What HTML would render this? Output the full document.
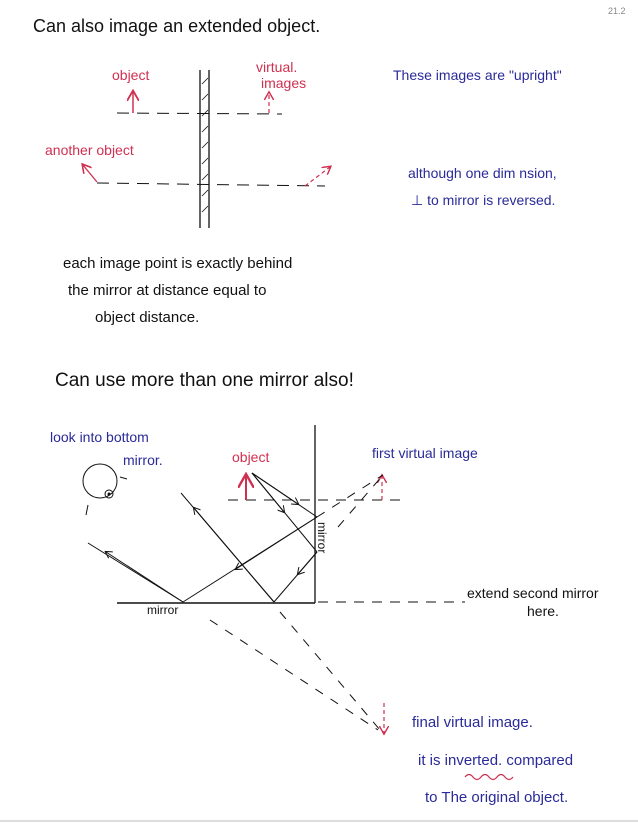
<!DOCTYPE html>
<html><head><meta charset="utf-8"><style>
html,body{margin:0;padding:0;background:#fff;}
svg{display:block;}
text{font-family:"Liberation Sans",sans-serif;}
.k{fill:#111;} .b{fill:#2a2a9a;} .r{fill:#d03050;}
</style></head><body>
<svg width="638" height="824" viewBox="0 0 638 824" xmlns="http://www.w3.org/2000/svg">
<defs>
<marker id="ah" markerWidth="8" markerHeight="8" refX="6" refY="4" orient="auto"><path d="M0,0 L7,4 L0,8" fill="none" stroke="#111" stroke-width="1"/></marker>
<marker id="ahr" markerWidth="8" markerHeight="8" refX="6" refY="4" orient="auto"><path d="M0,0 L7,4 L0,8" fill="none" stroke="#d03050" stroke-width="1.2"/></marker>
</defs>
<!-- top section -->
<text x="33" y="32" font-size="18" class="k">Can also image an extended object.</text>
<text x="608" y="14" font-size="9" fill="#888">21.2</text>
<line x1="200" y1="70" x2="200" y2="228" stroke="#111" stroke-width="1.3"/>
<line x1="209" y1="70" x2="209" y2="228" stroke="#111" stroke-width="1.3"/>
<g stroke="#111" stroke-width="0.8">
<line x1="202" y1="84" x2="208" y2="78"/><line x1="202" y1="100" x2="208" y2="94"/><line x1="202" y1="116" x2="208" y2="110"/><line x1="202" y1="132" x2="208" y2="126"/><line x1="202" y1="148" x2="208" y2="142"/><line x1="202" y1="164" x2="208" y2="158"/><line x1="202" y1="180" x2="208" y2="174"/><line x1="202" y1="196" x2="208" y2="190"/><line x1="202" y1="212" x2="208" y2="206"/>
</g>
<line x1="117" y1="113" x2="282" y2="114" stroke="#111" stroke-dasharray="12,8"/>
<line x1="97" y1="183" x2="325" y2="186" stroke="#111" stroke-dasharray="12,8"/>
<line x1="133" y1="113" x2="133" y2="92" stroke="#d03050" stroke-width="1.5" marker-end="url(#ahr)"/>
<line x1="269" y1="113" x2="269" y2="93" stroke="#d03050" stroke-width="1.2" stroke-dasharray="4,3" marker-end="url(#ahr)"/>
<line x1="97" y1="182" x2="83" y2="165" stroke="#d03050" stroke-width="1.3" marker-end="url(#ahr)"/>
<line x1="305" y1="186" x2="330" y2="167" stroke="#d03050" stroke-width="1.2" stroke-dasharray="4,3" marker-end="url(#ahr)"/>
<text x="112" y="80" font-size="14" class="r">object</text>
<text x="256" y="72" font-size="14" class="r">virtual.</text>
<text x="261" y="88" font-size="14" class="r">images</text>
<text x="45" y="155" font-size="14" class="r">another object</text>
<text x="393" y="80" font-size="14" class="b">These images are "upright"</text>
<text x="408" y="178" font-size="14" class="b">although one dim nsion,</text>
<text x="411" y="205" font-size="14" class="b">⊥ to mirror is reversed.</text>
<text x="63" y="268" font-size="15" class="k">each image point is exactly behind</text>
<text x="68" y="295" font-size="15" class="k">the mirror at distance equal to</text>
<text x="95" y="322" font-size="15" class="k">object distance.</text>
<text x="55" y="386" font-size="19" class="k">Can use more than one mirror also!</text>
<!-- bottom section -->
<text x="50" y="442" font-size="14" class="b">look into bottom</text>
<text x="123" y="465" font-size="14" class="b">mirror.</text>
<line x1="315" y1="425" x2="315" y2="603" stroke="#111" stroke-width="1.3"/>
<line x1="117" y1="603" x2="315" y2="603" stroke="#111" stroke-width="1.5"/>
<line x1="318" y1="602" x2="465" y2="602" stroke="#111" stroke-dasharray="10,8"/>
<line x1="228" y1="500" x2="408" y2="500" stroke="#111" stroke-dasharray="10,8"/>
<text x="147" y="614" font-size="12" class="k">mirror</text>
<text x="0" y="0" font-size="12" class="k" transform="translate(318,522) rotate(90)">mirror</text>
<text x="467" y="598" font-size="14" class="k">extend second mirror</text>
<text x="527" y="616" font-size="14" class="k">here.</text>
<line x1="246" y1="500" x2="246" y2="476" stroke="#d03050" stroke-width="2" marker-end="url(#ahr)"/>
<line x1="382" y1="500" x2="382" y2="476" stroke="#d03050" stroke-width="1.2" stroke-dasharray="4,3" marker-end="url(#ahr)"/>
<text x="232" y="462" font-size="14" class="r">object</text>
<text x="372" y="458" font-size="14" class="b">first virtual image</text>
<!-- eye -->
<circle cx="100" cy="481" r="17" fill="none" stroke="#111"/>
<circle cx="109" cy="494" r="4" fill="none" stroke="#111"/>
<circle cx="109" cy="494" r="1.5" fill="#111"/>
<line x1="120" y1="477" x2="127" y2="479" stroke="#111"/>
<line x1="88" y1="505" x2="86" y2="515" stroke="#111"/>
<!-- rays -->
<g stroke="#111" stroke-width="1" fill="none">
<line x1="252" y1="473" x2="317" y2="517"/>
<line x1="317" y1="517" x2="183" y2="602"/>
<line x1="183" y1="602" x2="88" y2="543"/>
<line x1="183" y1="602" x2="106" y2="552" marker-end="url(#ah)"/>
<line x1="252" y1="473" x2="317" y2="552"/>
<line x1="317" y1="552" x2="274" y2="602"/>
<line x1="274" y1="602" x2="181" y2="493"/>
<line x1="274" y1="602" x2="194" y2="508" marker-end="url(#ah)"/>
<line x1="252" y1="473" x2="298" y2="504" marker-end="url(#ah)"/>
<line x1="252" y1="473" x2="284" y2="512" marker-end="url(#ah)"/>
<line x1="317" y1="552" x2="298" y2="574" marker-end="url(#ah)"/>
<line x1="317" y1="517" x2="236" y2="569" marker-end="url(#ah)"/>
</g>
<g stroke="#111" stroke-width="1" stroke-dasharray="9,9">
<line x1="317" y1="517" x2="383" y2="475"/>
<line x1="338" y1="527" x2="383" y2="475"/>
<line x1="280" y1="612" x2="380" y2="730"/>
<line x1="210" y1="620" x2="378" y2="730"/>
</g>
<line x1="384" y1="703" x2="384" y2="733" stroke="#d03050" stroke-width="1.2" stroke-dasharray="4,3" marker-end="url(#ahr)"/>
<text x="412" y="727" font-size="15" class="b">final virtual image.</text>
<text x="418" y="765" font-size="15" class="b">it is inverted. compared</text>
<path d="M465,777 q4,-5 8,0 t8,0 t8,0 t8,0 t8,0 t8,0" fill="none" stroke="#d03050" stroke-width="1.2"/>
<text x="425" y="802" font-size="15" class="b">to The original object.</text>
<line x1="0" y1="821" x2="638" y2="821" stroke="#bbb" stroke-width="1"/>
</svg>
</body></html>
